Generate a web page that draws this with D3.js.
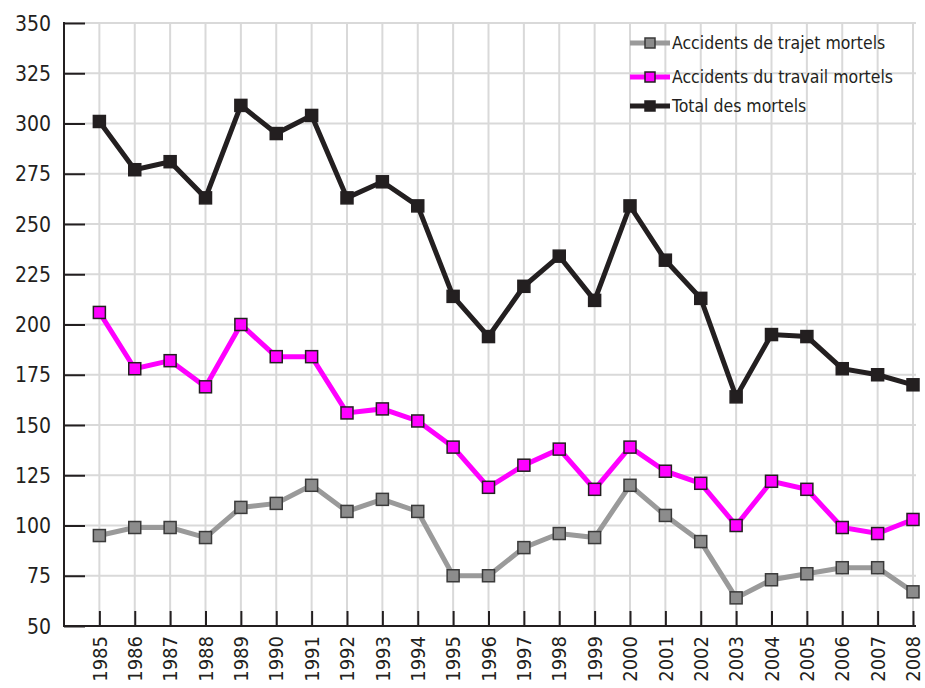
<!DOCTYPE html>
<html>
<head>
<meta charset="utf-8">
<script src="https://cdn.jsdelivr.net/npm/d3@7"></script>
<style>
  body { margin: 0; background: #fff; }
  svg { display: block; font-family: "DejaVu Sans Condensed", "DejaVu Sans", sans-serif; }
</style>
</head>
<body>
<svg id="viz"></svg>
<script>
// ----------------------- DATA
const years = d3.range(1985, 2009);
const trajet = [95, 99, 99, 94, 109, 111, 120, 107, 113, 107, 75, 75, 89, 96, 94, 120, 105, 92, 64, 73, 76, 79, 79, 67];
const travail = [206, 178, 182, 169, 200, 184, 184, 156, 158, 152, 139, 119, 130, 138, 118, 139, 127, 121, 100, 122, 118, 99, 96, 103];
const total = [301, 277, 281, 263, 309, 295, 304, 263, 271, 259, 214, 194, 219, 234, 212, 259, 232, 213, 164, 195, 194, 178, 175, 170];
const yTicks = [50, 75, 100, 125, 150, 175, 200, 225, 250, 275, 300, 325, 350];

const series = [
  { name: 'Accidents de trajet mortels', values: trajet, line: '#9a9a9a', fill: '#8c8c8c', stroke: '#3a3a3a' },
  { name: 'Accidents du travail mortels', values: travail, line: '#ff00ff', fill: '#ff00ff', stroke: '#231f20' },
  { name: 'Total des mortels', values: total, line: '#231f20', fill: '#231f20', stroke: '#231f20' }
];

// ----------------------- SETTINGS
const W = 925, H = 688;
const plot = { left: 64, right: 916, top: 23, bottom: 626 };

const svg = d3.select('#viz').attr('width', W).attr('height', H);

const x = d3.scaleLinear().domain([1984, 2008]).range([plot.left, 913]);
const y = d3.scaleLinear().domain([50, 350]).range([plot.bottom, plot.top]);

// ----------------------- GRID
svg.append('g')
  .selectAll('line')
  .data(yTicks.slice(1))
  .join('line')
  .attr('x1', plot.left).attr('x2', plot.right)
  .attr('y1', d => y(d)).attr('y2', d => y(d))
  .attr('stroke', '#d9d9d9').attr('stroke-width', 2);

svg.append('g')
  .selectAll('line')
  .data(years)
  .join('line')
  .attr('x1', d => x(d)).attr('x2', d => x(d))
  .attr('y1', plot.top).attr('y2', plot.bottom)
  .attr('stroke', '#d9d9d9').attr('stroke-width', 2);

// ----------------------- AXES
const yAxis = d3.axisRight(y).tickValues(yTicks).tickSize(21).tickFormat('');
svg.append('g')
  .attr('transform', `translate(${plot.left},0)`)
  .call(yAxis)
  .call(g => g.select('.domain').remove())
  .call(g => g.selectAll('line').attr('stroke', '#231f20').attr('stroke-width', 2));

svg.append('g')
  .selectAll('text')
  .data(yTicks)
  .join('text')
  .attr('x', 51).attr('y', d => y(d))
  .attr('dy', '0.36em')
  .attr('text-anchor', 'end')
  .attr('font-size', 21)
  .attr('fill', '#231f20')
  .text(d => d);

const xAxis = d3.axisTop(x).tickValues(years).tickSize(15).tickFormat('');
svg.append('g')
  .attr('transform', `translate(0,${plot.bottom})`)
  .call(xAxis)
  .call(g => g.select('.domain').remove())
  .call(g => g.selectAll('line').attr('stroke', '#231f20').attr('stroke-width', 2));

svg.append('g')
  .selectAll('text')
  .data(years)
  .join('text')
  .attr('transform', d => `translate(${x(d)},636) rotate(-90)`)
  .attr('dy', '0.36em')
  .attr('text-anchor', 'end')
  .attr('font-size', 20)
  .attr('fill', '#231f20')
  .text(d => d);

// axis lines
svg.append('line')
  .attr('x1', plot.left).attr('x2', plot.left).attr('y1', plot.top - 1).attr('y2', plot.bottom + 1)
  .attr('stroke', '#231f20').attr('stroke-width', 2);
svg.append('line')
  .attr('x1', plot.left - 1).attr('x2', plot.right).attr('y1', plot.bottom).attr('y2', plot.bottom)
  .attr('stroke', '#231f20').attr('stroke-width', 2);

// ----------------------- LINES
const line = d3.line().x((d, i) => x(years[i])).y(d => y(d));

series.forEach(s => {
  const g = svg.append('g');
  g.append('path')
    .datum(s.values)
    .attr('d', line)
    .attr('fill', 'none')
    .attr('stroke', s.line)
    .attr('stroke-width', 5)
    .attr('stroke-linejoin', 'miter');
  g.selectAll('rect')
    .data(s.values)
    .join('rect')
    .attr('x', (d, i) => x(years[i]) - 6)
    .attr('y', d => y(d) - 6)
    .attr('width', 12).attr('height', 12)
    .attr('fill', s.fill)
    .attr('stroke', s.stroke)
    .attr('stroke-width', 1.5);
});

// ----------------------- LEGEND
const legendY = [43, 77, 106];
const legend = svg.append('g')
  .selectAll('g')
  .data(series)
  .join('g')
  .attr('transform', (d, i) => `translate(630,${legendY[i]})`);

legend.append('line')
  .attr('x1', 0).attr('x2', 40)
  .attr('stroke', d => d.line).attr('stroke-width', 5);
legend.append('rect')
  .attr('x', 15).attr('y', -5).attr('width', 10).attr('height', 10)
  .attr('fill', d => d.fill).attr('stroke', d => d.stroke).attr('stroke-width', 1.5);
legend.append('text')
  .attr('x', 42).attr('dy', '0.36em')
  .attr('font-size', 17.5)
  .attr('fill', '#231f20')
  .text(d => d.name);
</script>
</body>
</html>
